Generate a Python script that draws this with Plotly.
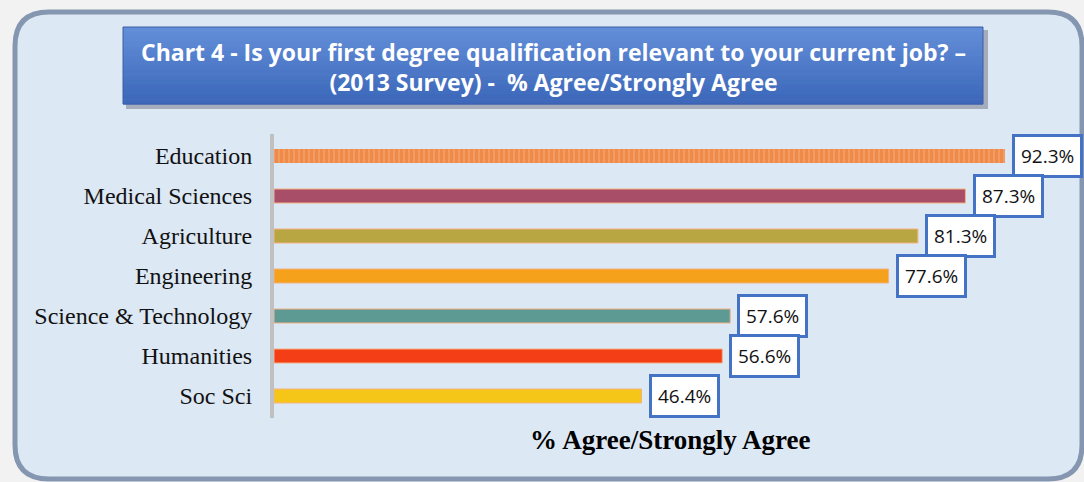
import plotly.graph_objects as go

categories = ["Education", "Medical Sciences", "Agriculture", "Engineering",
              "Science & Technology", "Humanities", "Soc Sci"]
values = [92.3, 87.3, 81.3, 77.6, 57.6, 56.6, 46.4]
labels = ["92.3%", "87.3%", "81.3%", "77.6%", "57.6%", "56.6%", "46.4%"]
colors = ["#ed7d31", "#a84e68", "#b8a642", "#f5a11c", "#5e9a94", "#f43e16", "#f5c518"]
title_lines = ["Chart 4 - Is your first degree qualification relevant to your current job? –",
               "(2013 Survey) -  % Agree/Strongly Agree"]
x_title = "% Agree/Strongly Agree"

W, H = 1084, 482
ML, MR, MT, MB = 274, 18, 134, 64
PW, PH = W - ML - MR, H - MT - MB


def px(x):
    return (x - ML) / PW


def py(y):
    return (H - MB - y) / PH


fig = go.Figure()
for i, (c, v, col) in enumerate(zip(categories, values, colors)):
    if i == 0:
        marker = dict(color="#f4a06a",
                      pattern=dict(shape="|", fgcolor="#ea7428", bgcolor="#f4a06a",
                                   size=5, solidity=0.7, fillmode="overlay"),
                      line=dict(width=0))
    else:
        marker = dict(color=col, line=dict(color="#f4b183", width=1))
    fig.add_trace(go.Bar(y=[c], x=[v], orientation="h", marker=marker,
                         width=0.35, showlegend=False, hoverinfo="skip"))

annotations = []
for c, v, lab in zip(categories, values, labels):
    annotations.append(dict(x=v + 0.9, y=c, xref="x", yref="y", text=lab,
                            showarrow=False, xanchor="left", yanchor="middle",
                            font=dict(family="Open Sans", size=19, color="#111"),
                            bgcolor="white", bordercolor="#4472c4", borderwidth=3,
                            borderpad=6))

annotations.append(dict(x=0.5, y=py(440), xref="paper", yref="paper", text=x_title,
                        showarrow=False, xanchor="center", yanchor="middle",
                        font=dict(family="Liberation Serif", size=27, color="black",
                                  weight="bold")))
annotations.append(dict(x=px(553), y=py(67), xref="paper", yref="paper",
                        text="<br>".join(title_lines), showarrow=False,
                        xanchor="center", yanchor="middle",
                        font=dict(family="Open Sans", size=23, color="white",
                                  weight="bold")))

shapes = []


def rounded(x0, y0, x1, y1, r):
    rx, ry = r / PW, r / PH
    X0, X1 = px(x0), px(x1)
    Y0, Y1 = py(y0), py(y1)
    return (f"M {X0+rx},{Y0} L {X1-rx},{Y0} Q {X1},{Y0} {X1},{Y0-ry} "
            f"L {X1},{Y1+ry} Q {X1},{Y1} {X1-rx},{Y1} L {X0+rx},{Y1} "
            f"Q {X0},{Y1} {X0},{Y1+ry} L {X0},{Y0-ry} Q {X0},{Y0} {X0+rx},{Y0} Z")


shapes.append(dict(type="path", xref="paper", yref="paper",
                   path=rounded(15, 12, 1082, 479, 34),
                   fillcolor="#dde8f5", line=dict(color="#8496b0", width=5),
                   layer="below"))
shapes.append(dict(type="rect", xref="paper", yref="paper",
                   x0=px(126), x1=px(988), y0=py(30), y1=py(109),
                   fillcolor="rgba(60,60,80,0.35)", line=dict(width=0), layer="below"))
top = (0x62, 0x8e, 0xd8)
bot = (0x3d, 0x68, 0xbb)
n = 16
y_top, y_bot = 27, 104
for k in range(n):
    t = k / (n - 1)
    col = tuple(int(top[j] + (bot[j] - top[j]) * t) for j in range(3))
    ya = y_top + (y_bot - y_top) * k / n
    yb = y_top + (y_bot - y_top) * (k + 1) / n
    shapes.append(dict(type="rect", xref="paper", yref="paper",
                       x0=px(123), x1=px(983), y0=py(ya), y1=py(yb + 0.6),
                       fillcolor="rgb(%d,%d,%d)" % col, line=dict(width=0),
                       layer="below"))
shapes.append(dict(type="rect", xref="paper", yref="paper",
                   x0=px(123), x1=px(983), y0=py(27), y1=py(104),
                   line=dict(color="#3a5fa6", width=1), layer="below"))

fig.update_layout(
    width=W, height=H,
    margin=dict(l=ML, r=MR, t=MT, b=MB),
    paper_bgcolor="#f2f2f2", plot_bgcolor="rgba(0,0,0,0)",
    barmode="overlay",
    xaxis=dict(range=[0, 100], showgrid=False, zeroline=False,
               showticklabels=False, showline=False, fixedrange=True),
    yaxis=dict(categoryorder="array", categoryarray=categories[::-1],
               showgrid=False, zeroline=False, showline=True,
               linecolor="#c0c0c0", linewidth=4, ticks="",
               ticklabelstandoff=13, fixedrange=True,
               tickfont=dict(family="Liberation Serif", size=24, color="#111")),
    annotations=annotations, shapes=shapes,
)

fig.write_html("out.html", config={"displayModeBar": False},
               post_script="document.body.style.margin='0';document.body.style.overflow='hidden';")
